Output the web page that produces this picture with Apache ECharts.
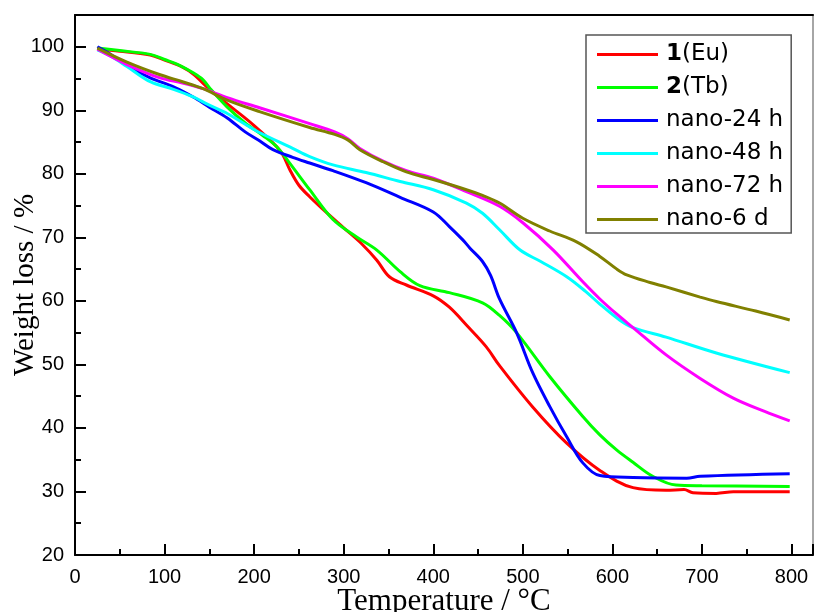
<!DOCTYPE html>
<html><head><meta charset="utf-8">
<script src="https://cdn.jsdelivr.net/npm/echarts@6/dist/echarts.min.js"></script>
<style>html,body{margin:0;padding:0;background:#fff}#c{width:814px;height:612px}</style>
</head><body><div id="c"></div>
<script>
// ---- data (temperature °C, weight %) ----
const seriesNames = ['1(Eu)', '2(Tb)', 'nano-24 h', 'nano-48 h', 'nano-72 h', 'nano-6 d'];
const xTicks = [0, 100, 200, 300, 400, 500, 600, 700, 800];
const yTicks = [20, 30, 40, 50, 60, 70, 80, 90, 100];

const euT = [25, 50, 84, 100, 120, 132, 151, 170, 188, 200, 215, 225, 232, 240, 250, 262, 280, 300, 320, 337, 351, 370, 400, 418, 437, 459, 474, 511, 549, 586, 623, 660, 680, 690, 716, 735, 798];
const euW = [99.6, 99.3, 98.7, 97.9, 96.8, 95.7, 93.2, 91.0, 89.0, 87.6, 85.7, 84.3, 83.0, 80.6, 78.2, 76.4, 74.0, 71.5, 69.0, 66.4, 63.8, 62.5, 60.8, 59.0, 56.2, 52.8, 49.8, 43.3, 37.6, 33.3, 30.6, 30.2, 30.3, 29.8, 29.7, 29.95, 29.95];

const tbT = [25, 50, 84, 100, 115, 132, 143, 151, 170, 190, 210, 225, 238, 262, 288, 314, 337, 363, 385, 418, 455, 474, 493, 530, 567, 586, 605, 623, 645, 671, 700, 798];
const tbW = [99.8, 99.4, 98.8, 98.0, 97.2, 95.9, 94.8, 93.4, 90.5, 88.0, 86.0, 84.3, 82.0, 77.5, 72.8, 70.1, 68.0, 64.6, 62.4, 61.3, 59.7, 57.7, 55.0, 48.1, 41.8, 38.9, 36.5, 34.6, 32.4, 31.0, 30.9, 30.8];

const n24T = [25, 40, 58, 84, 110, 132, 150, 170, 190, 206, 221, 243, 262, 288, 325, 363, 400, 418, 433, 441, 455, 464, 474, 493, 511, 530, 549, 567, 586, 623, 683, 698, 798];
const n24W = [100, 98.8, 97.0, 95.1, 93.7, 92.1, 90.5, 88.8, 86.6, 85.2, 83.8, 82.6, 81.7, 80.5, 78.6, 76.3, 74.0, 71.7, 69.6, 68.3, 66.2, 64.0, 60.3, 55.0, 48.7, 43.4, 38.6, 34.5, 32.5, 32.2, 32.1, 32.4, 32.8];

const n48T = [25, 40, 58, 84, 110, 132, 150, 170, 190, 206, 243, 262, 288, 325, 363, 400, 437, 455, 474, 497, 520, 549, 570, 586, 608, 623, 660, 716, 798];
const n48W = [99.5, 98.5, 96.9, 94.5, 93.3, 92.1, 90.8, 89.5, 87.8, 86.5, 84.0, 82.7, 81.4, 80.2, 78.8, 77.5, 75.4, 73.8, 71.2, 68.0, 66.2, 63.8, 61.5, 59.5, 57.0, 55.8, 54.3, 51.8, 48.7];

const n72T = [25, 58, 95, 120, 143, 170, 206, 262, 290, 305, 318, 344, 370, 400, 437, 474, 500, 534, 567, 586, 605, 623, 660, 698, 735, 770, 798];
const n72W = [99.6, 97.2, 95.1, 94.3, 93.4, 92.0, 90.4, 87.9, 86.6, 85.5, 84.0, 82.0, 80.5, 79.3, 77.2, 74.9, 72.3, 68.0, 63.0, 60.3, 57.9, 55.8, 51.5, 47.8, 44.7, 42.6, 41.1];

const n6dT = [25, 58, 95, 120, 143, 170, 206, 262, 290, 305, 318, 344, 370, 400, 437, 455, 474, 500, 530, 560, 586, 605, 616, 642, 660, 698, 716, 760, 798];
const n6dW = [99.8, 97.6, 95.6, 94.5, 93.4, 91.6, 89.8, 87.3, 86.2, 85.3, 83.8, 81.9, 80.3, 79.1, 77.5, 76.6, 75.4, 73.0, 71.0, 69.3, 67.0, 65.0, 64.1, 62.9, 62.2, 60.6, 59.9, 58.4, 57.0];

const colors = ['#FF0000', '#00FF00', '#0000FF', '#00FFFF', '#FF00FF', '#808000'];
const allT = [euT, tbT, n24T, n48T, n72T, n6dT];
const allW = [euW, tbW, n24W, n48W, n72W, n6dW];

const zip = (a, b) => a.map((v, i) => [v, b[i]]);
const XMIN = 0, XMAX = 824, YMIN = 20, YMAX = 105;
const labFont = {fontFamily: 'Liberation Sans', fontSize: 20, color: '#000'};

const chart = echarts.init(document.getElementById('c'), null, {renderer: 'canvas'});
chart.setOption({
  animation: false,
  backgroundColor: '#fff',
  grid: {left: 75, top: 15, right: 1, bottom: 57, containLabel: false, outerBoundsMode: 'none'},
  xAxis: [
    {type: 'value', position: 'bottom', min: XMIN, max: XMAX, interval: 100,
     name: 'Temperature / \u00B0C', nameLocation: 'middle', nameGap: 31, nameMoveOverlap: false,
     nameTextStyle: {fontFamily: 'Liberation Serif', fontSize: 31, color: '#000'},
     axisLine: {show: true, onZero: false, lineStyle: {color: '#000', width: 2}},
     axisTick: {show: true, inside: true, length: 11, lineStyle: {color: '#000', width: 2}},
     axisLabel: {margin: 12, ...labFont, formatter: v => xTicks.includes(v) ? String(v) : ''},
     splitLine: {show: false}},
    {type: 'value', position: 'bottom', min: XMIN, max: XMAX, interval: 50,
     axisLine: {show: false},
     axisTick: {show: true, inside: true, length: 6, lineStyle: {color: '#000', width: 2}},
     axisLabel: {show: false}, splitLine: {show: false}},
    {type: 'value', position: 'top', min: XMIN, max: XMAX,
     axisLine: {show: true, onZero: false, lineStyle: {color: '#000', width: 2}},
     axisTick: {show: false}, axisLabel: {show: false}, splitLine: {show: false}}
  ],
  yAxis: [
    {type: 'value', position: 'left', min: YMIN, max: YMAX, interval: 10,
     name: 'Weight loss / %', nameLocation: 'middle', nameGap: 35, nameMoveOverlap: false,
     nameTextStyle: {fontFamily: 'Liberation Serif', fontSize: 29, color: '#000'},
     axisLine: {show: true, onZero: false, lineStyle: {color: '#000', width: 2}},
     axisTick: {show: true, inside: true, length: 11, lineStyle: {color: '#000', width: 2}},
     axisLabel: {margin: 11, ...labFont, formatter: v => yTicks.includes(v) ? String(v) : ''},
     splitLine: {show: false}},
    {type: 'value', position: 'left', min: YMIN, max: YMAX, interval: 5,
     axisLine: {show: false},
     axisTick: {show: true, inside: true, length: 6, lineStyle: {color: '#000', width: 2}},
     axisLabel: {show: false}, splitLine: {show: false}},
    {type: 'value', position: 'right', min: YMIN, max: YMAX,
     axisLine: {show: true, onZero: false, lineStyle: {color: '#888', width: 1.5}},
     axisTick: {show: false}, axisLabel: {show: false}, splitLine: {show: false}}
  ],
  legend: {
    orient: 'vertical', left: 586, top: 35,
    padding: [8, 8, 2, 11], itemGap: 10, itemWidth: 61, itemHeight: 3, icon: 'rect',
    backgroundColor: '#fff', borderColor: '#555', borderWidth: 1.5,
    data: seriesNames,
    formatter: function (name) {
      if (/^\d/.test(name)) return '{b|' + name[0] + '}{n|' + name.slice(1) + '}';
      return '{n|' + name + '}';
    },
    textStyle: {fontFamily: 'DejaVu Sans', fontSize: 23, color: '#000', lineHeight: 22, padding: [0, 0, 0, 3],
      rich: {
        b: {fontFamily: 'DejaVu Sans', fontSize: 23, fontWeight: 'bold', color: '#000', lineHeight: 22},
        n: {fontFamily: 'DejaVu Sans', fontSize: 23, color: '#000', lineHeight: 22}
      }}
  },
  series: seriesNames.map((nm, i) => ({
    name: nm, type: 'line', xAxisIndex: 0, yAxisIndex: 0,
    data: zip(allT[i], allW[i]),
    smooth: 0.35, symbol: 'none', showSymbol: false,
    lineStyle: {color: colors[i], width: 3},
    itemStyle: {color: colors[i]},
    z: 2 + i
  }))
});
</script></body></html>
